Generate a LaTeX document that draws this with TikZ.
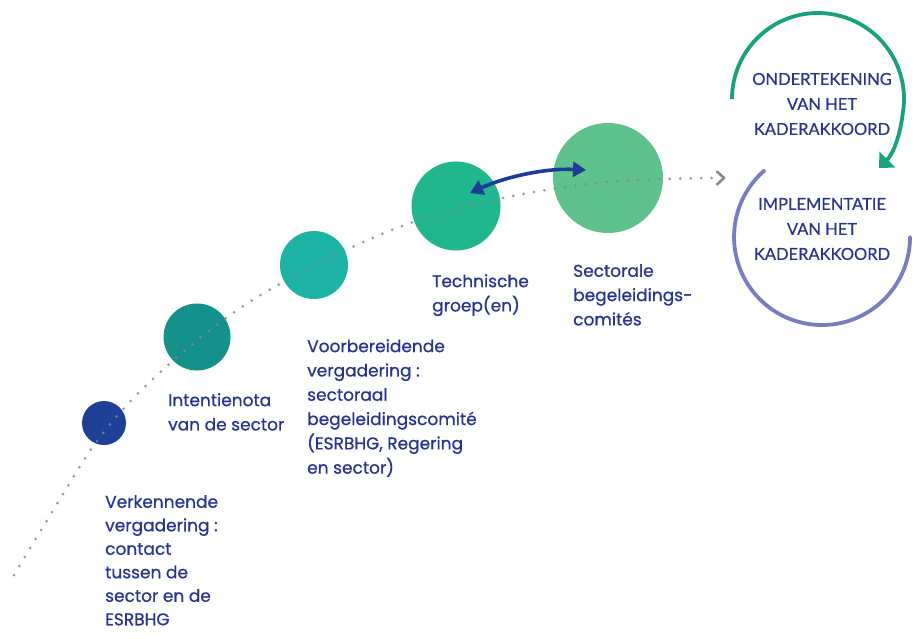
\documentclass[tikz,border=0pt]{standalone}
\usepackage{fontspec}
\setmainfont[FakeBold=0.7]{Poppins}
\newfontfamily\capsfont[FakeBold=0.4]{Lato}
\usetikzlibrary{arrows.meta,calc}
\definecolor{txt}{RGB}{38,52,140}
\definecolor{cA}{RGB}{30,65,150}
\definecolor{cB}{RGB}{20,145,138}
\definecolor{cC}{RGB}{30,180,165}
\definecolor{cD}{RGB}{32,182,142}
\definecolor{cE}{RGB}{95,193,140}
\definecolor{dotgrey}{RGB}{135,135,145}
\definecolor{arcgreen}{RGB}{25,160,125}
\definecolor{arcpurple}{RGB}{120,125,190}
\definecolor{darrow}{RGB}{30,60,150}
\tikzset{
  bub/.style={circle,inner sep=0pt,draw=none},
  lbl/.style={anchor=north west,inner sep=0pt,align=left,text=txt,
    font=\fontsize{17}{24.3}\selectfont},
  caps/.style={inner sep=0pt,align=center,text=txt,
    font=\capsfont\fontsize{16.5}{25}\selectfont},
}
\begin{document}
\begin{tikzpicture}[x=1pt,y=-1pt]
\useasboundingbox[fill=white] (0,0) rectangle (920,639);
% circles
\node[bub,fill=cA,minimum size=44pt] (c1) at (104,423) {};
\node[bub,fill=cB,minimum size=67pt] (c2) at (197,337) {};
\node[bub,fill=cC,minimum size=68pt] (c3) at (314,265) {};
\node[bub,fill=cD,minimum size=89pt] (c4) at (456,206) {};
\node[bub,fill=cE,minimum size=110pt] (c5) at (608,178) {};
% dotted path
\coordinate (p0) at (14,575);
\coordinate (pe) at (712,178);
\draw[dotgrey,opacity=0.85,line width=3pt,line cap=round,dash pattern=on 0pt off 10.5pt]
  plot[smooth,tension=0.6] coordinates {(14,575) (57,504) (100,437) (155,377) (233,313) (314,266) (405,225) (503,198) (608,182) (712,178)};
\draw[dotgrey,line width=2.6pt,line cap=round,line join=round]
  ($(pe)+(5,-6.5)$) -- ($(pe)+(12,0)$) -- ($(pe)+(5,6.5)$);
% double arrow
\coordinate (a4) at (470,193);
\coordinate (a5) at (586,170);
\draw[darrow,line width=3.6pt,{Triangle[length=13pt,width=15pt]}-{Triangle[length=13pt,width=15pt]}]
  (a4) .. controls (505,177) and (545,168) .. (a5);
% labels
\node[lbl,font=\fontsize{17}{23.5}\selectfont] (t1) at (105,495) {Verkennende\\vergadering :\\contact\\tussen de\\sector en de\\ESRBHG};
\node[lbl] (t2) at (168,393) {Intentienota\\van de sector};
\node[lbl] (t3) at (307,339) {Voorbereidende\\vergadering :\\sectoraal\\begeleidingscomité\\(ESRBHG, Regering\\en sector)};
\node[lbl] (t4) at (432,274) {Technische\\groep(en)};
\node[lbl] (t5) at (573,264) {Sectorale\\begeleidings-\\comités};
% right cycle
\node[caps] (o) at (822,104) {ONDERTEKENING\\VAN HET\\KADERAKKOORD};
\node[caps] (i) at (822,229) {IMPLEMENTATIE\\VAN HET\\KADERAKKOORD};
\draw[arcgreen,line width=3.8pt,-{Triangle[length=12pt,width=22pt]}]
  (732,99) arc[start angle=-180,end angle=10,radius=86]
  .. controls (900,136) and (893,154) .. (879,168);
\draw[arcpurple,line width=3.8pt,line cap=round]
  (764.3,170.6) arc[start angle=-131,end angle=-360,radius=88];
\end{tikzpicture}
\end{document}
